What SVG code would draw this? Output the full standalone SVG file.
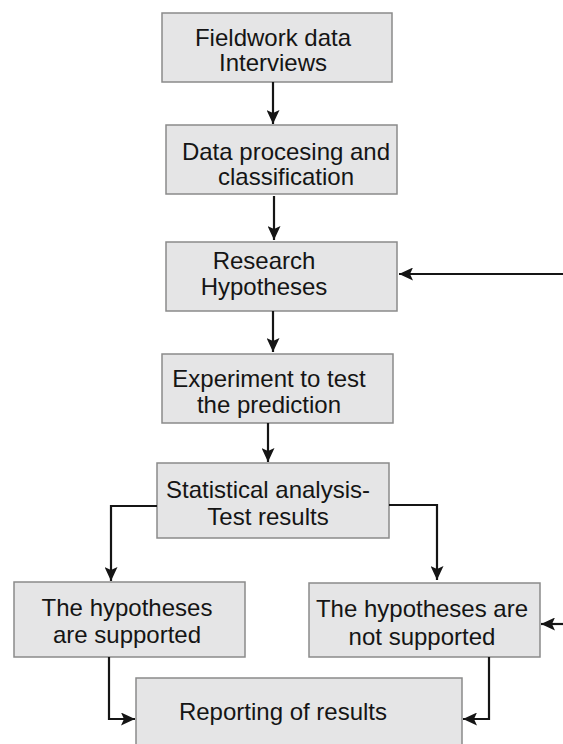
<svg xmlns="http://www.w3.org/2000/svg" width="563" height="744" viewBox="0 0 563 744">
<style>
.box{fill:#e5e5e6;stroke:#8a8a8a;stroke-width:1.5}
.t{font-family:"Liberation Sans",Arial,sans-serif;font-size:24px;fill:#151515;text-anchor:middle}
.c{fill:none;stroke:#151515;stroke-width:2.2}
</style>
<defs>
<marker id="ah" markerUnits="userSpaceOnUse" markerWidth="15" markerHeight="13" refX="14" refY="6.5" orient="auto">
<path d="M0,0 L14,6.5 L0,13 L3,6.5 z" fill="#151515"/>
</marker>
</defs>
<rect width="563" height="744" fill="#ffffff"/>
<g id="n1"><rect class="box" x="162" y="13" width="230" height="69"/><text class="t" x="273" y="46">Fieldwork data</text><text class="t" x="273" y="71">Interviews</text></g>
<g id="n2"><rect class="box" x="166" y="125" width="231" height="69"/><text class="t" x="286" y="160">Data procesing and</text><text class="t" x="286" y="185">classification</text></g>
<g id="n3"><rect class="box" x="166" y="242" width="231" height="69"/><text class="t" x="264" y="269">Research</text><text class="t" x="264" y="295">Hypotheses</text></g>
<g id="n4"><rect class="box" x="162" y="354" width="231" height="69"/><text class="t" x="269" y="387">Experiment to test</text><text class="t" x="269" y="413">the prediction</text></g>
<g id="n5"><rect class="box" x="157" y="463" width="232" height="75"/><text class="t" x="268" y="498">Statistical analysis-</text><text class="t" x="268" y="525">Test results</text></g>
<g id="n6"><rect class="box" x="14" y="582" width="231" height="75"/><text class="t" x="127" y="616">The hypotheses</text><text class="t" x="127" y="643">are supported</text></g>
<g id="n7"><rect class="box" x="309" y="583" width="231" height="74"/><text class="t" x="422" y="617">The hypotheses are</text><text class="t" x="422" y="645">not supported</text></g>
<g id="n8"><rect class="box" x="136" y="678" width="326" height="80"/><text class="t" x="283" y="720">Reporting of results</text></g>
<g id="connectors">
<path class="c" d="M273,82 V124" marker-end="url(#ah)"/>
<path class="c" d="M274,196 V240" marker-end="url(#ah)"/>
<path class="c" d="M563,274 H399" marker-end="url(#ah)"/>
<path class="c" d="M273,311 V352" marker-end="url(#ah)"/>
<path class="c" d="M268,423 V462" marker-end="url(#ah)"/>
<path class="c" d="M157,506 H111 V581" marker-end="url(#ah)"/>
<path class="c" d="M389,505 H437 V580" marker-end="url(#ah)"/>
<path class="c" d="M563,624 H541" marker-end="url(#ah)"/>
<path class="c" d="M109,657 V719 H135" marker-end="url(#ah)"/>
<path class="c" d="M489,657 V719 H463" marker-end="url(#ah)"/>
</g>
</svg>
